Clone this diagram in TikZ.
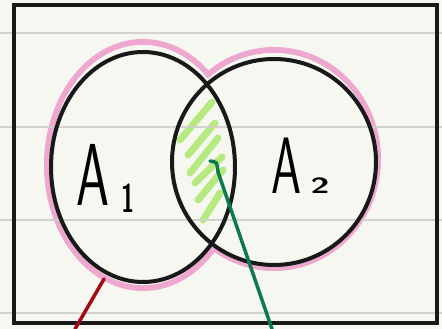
\documentclass[tikz,border=0pt]{standalone}
\usepackage{fontspec}
\definecolor{paper}{HTML}{F6F7F1}
\definecolor{rulegray}{HTML}{CFCFCB}
\definecolor{vennpink}{HTML}{EEA8D0}
\definecolor{hatchgreen}{HTML}{B6EA80}
\definecolor{ptrgreen}{HTML}{0C7A4E}
\definecolor{ptrred}{HTML}{A30A14}
\tikzset{
  px/.style={x=1pt, y=-1pt},
  ruled/.style={rulegray, line width=2.2},
  pinkrim/.style={vennpink, line width=6},
  hatch/.style={hatchgreen, line width=7, line cap=round},
  setline/.style={black!90, line width=4},
  frame/.style={black!90, line width=4.5},
  ptr/.style={line width=3.5, line cap=round},
  lbl/.style={font=\sffamily, inner sep=0pt, xscale=0.6},
}

\begin{document}
\begin{tikzpicture}[px]
  \useasboundingbox (0,0) rectangle (442,329);
  \fill[paper] (0,0) rectangle (442,329);
  % pink rim round the union
  \draw[pinkrim] (143,165) ellipse [x radius=96, y radius=123];
  \draw[pinkrim] (274,159) ellipse [x radius=104, y radius=109];
  \fill[paper] (143,165) ellipse [x radius=93, y radius=120];
  \fill[paper] (274,159) ellipse [x radius=101, y radius=106];
  % hatched intersection
  \begin{scope}
    \clip (143,167) ellipse [x radius=92, y radius=115];
    \clip (274,162) ellipse [x radius=102, y radius=103];
    \foreach \p/\q in {{180,140}/{212,102}, {188,155}/{215,123}, {190,173}/{218,138},
                       {195,183}/{222,157}, {198,200}/{223,170}, {203,220}/{220,193}}
      \draw[hatch] (\p) -- (\q);
  \end{scope}
  % ruled paper
  \foreach \y in {33,127,220,313}
    \draw[ruled, opacity=0.9] (0,\y) -- (442,\y);
  % the two sets
  \draw[setline] (143,167) ellipse [x radius=92, y radius=115];
  \draw[setline] (274,162) ellipse [x radius=102, y radius=103];
  \draw[frame] (14,5) rectangle (437,323);
  \node[lbl, anchor=base west] (aone) at (76,205)
    {\fontsize{88}{88}\selectfont A\hspace{20pt}\raisebox{-7pt}{\fontsize{40}{40}\selectfont\bfseries 1}};
  \node[lbl, anchor=base west] (atwo) at (271,193)
    {\fontsize{80}{80}\selectfont A\hspace{16pt}{\fontsize{22}{22}\selectfont\bfseries\scalebox{2.6}[1]{2}}};
  % pointers
  \coordinate (rtip) at (104,279);
  \coordinate (rend) at (75,329);
  \coordinate (gtip) at (210,161);
  \coordinate (gend) at (272,329);
  \draw[ptr, ptrred] (rtip) -- (rend);
  \draw[ptr, ptrgreen] (gtip) .. controls (217,162) .. (218,172) -- (gend);
\end{tikzpicture}
\end{document}
